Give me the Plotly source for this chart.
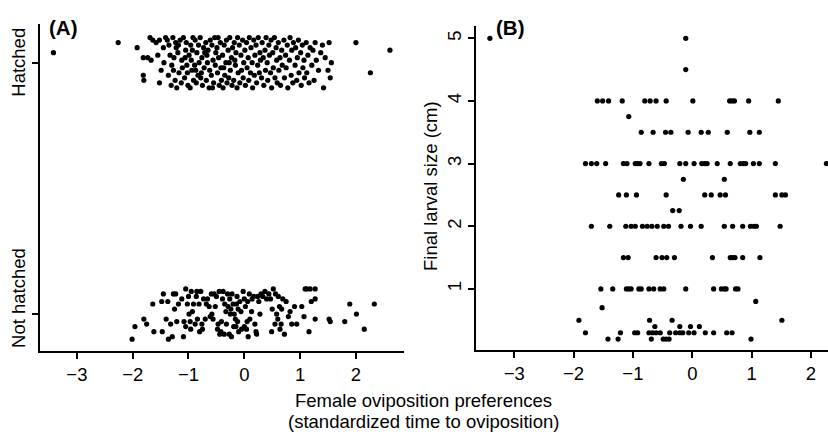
import plotly.graph_objects as go

# ---------------- Panel A: hatched (y ~ 1, jittered) ----------------
hatched_pref = [
    -3.42, -2.26, 2.00, 2.61, 2.26,
    -1.92, -1.81, -1.81, -1.80, -1.69, -1.64, -1.58, -1.52, -1.55, -1.49, -1.52, -1.73, -1.67, -1.44, -1.41, -1.45,
    -1.38, -1.36, -1.33, -1.31, -1.35, -1.30,
    -1.28, -1.26, -1.24, -1.22, -1.27, -1.21, -1.23,
    -1.19, -1.17, -1.15, -1.13, -1.12, -1.18, -1.11,
    -1.09, -1.07, -1.05, -1.03, -1.01, -1.06, -1.04, -1.02,
    -0.99, -0.97, -0.96, -0.94, -0.92, -0.91, -0.95, -0.93,
    -0.89, -0.88, -0.86, -0.85, -0.83, -0.82, -0.81, -0.87,
    -0.79, -0.78, -0.76, -0.75, -0.73, -0.72, -0.71, -0.77,
    -0.69, -0.68, -0.66, -0.65, -0.63, -0.62, -0.61, -0.67,
    -0.59, -0.58, -0.56, -0.55, -0.53, -0.52, -0.51, -0.57,
    -0.49, -0.48, -0.46, -0.45, -0.43, -0.42, -0.41, -0.47,
    -0.39, -0.38, -0.36, -0.35, -0.33, -0.32, -0.31, -0.37,
    -0.29, -0.28, -0.26, -0.25, -0.23, -0.22, -0.21, -0.27,
    -0.19, -0.18, -0.16, -0.15, -0.13, -0.12, -0.11, -0.17,
    -0.09, -0.08, -0.06, -0.05, -0.03, -0.02, -0.01,
    0.01, 0.02, 0.04, 0.05, 0.07, 0.08, 0.09,
    0.11, 0.12, 0.14, 0.15, 0.17, 0.18, 0.19,
    0.21, 0.22, 0.24, 0.25, 0.27, 0.28, 0.29,
    0.31, 0.32, 0.34, 0.35, 0.37, 0.38, 0.39,
    0.41, 0.42, 0.44, 0.45, 0.47, 0.48, 0.49,
    0.51, 0.52, 0.54, 0.55, 0.57, 0.58, 0.59,
    0.61, 0.62, 0.64, 0.65, 0.67, 0.68,
    0.71, 0.72, 0.74, 0.75, 0.77, 0.78,
    0.81, 0.82, 0.84, 0.85, 0.87, 0.88,
    0.91, 0.92, 0.94, 0.95, 0.97, 0.98,
    1.01, 1.02, 1.04, 1.05, 1.07, 1.08,
    1.11, 1.12, 1.14, 1.16, 1.18,
    1.21, 1.23, 1.25, 1.27, 1.29,
    1.33, 1.37, 1.42, 1.45, 1.52, 1.54, 1.56, 1.50, 1.40,
]
hatched_y = [
    1.04, 1.08, 1.08, 1.05, 0.96,
    1.06, 1.02, 0.95, 0.93, 1.10, 1.09, 1.08, 1.09, 1.03, 0.97, 0.92, 1.02, 1.01, 1.00, 1.10, 1.06,
    1.09, 0.95, 1.03, 0.91, 1.07, 0.99,
    1.10, 1.02, 0.93, 1.06, 0.97, 0.90, 1.08,
    1.04, 0.96, 1.09, 0.92, 1.01, 1.07, 0.98,
    1.10, 0.94, 1.05, 0.99, 0.91, 1.02, 1.08, 0.96,
    1.03, 0.90, 1.07, 0.97, 1.10, 0.93, 1.01, 1.05,
    0.99, 1.09, 0.92, 1.04, 0.95, 1.07, 1.00, 0.97,
    1.10, 0.94, 1.02, 0.91, 1.06, 0.98, 1.04, 0.96,
    1.08, 0.93, 1.00, 1.05, 0.90, 0.97, 1.09, 1.03,
    0.95, 1.07, 1.01, 0.92, 1.10, 0.99, 1.04, 0.90,
    1.06, 0.96, 1.02, 0.91, 1.08, 0.98, 0.93, 1.10,
    1.03, 0.90, 1.07, 0.95, 1.00, 1.09, 0.92, 0.98,
    1.05, 0.94, 1.10, 0.97, 1.02, 0.91, 1.06, 1.00,
    0.93, 1.08, 0.99, 1.04, 0.90, 1.10, 0.96, 1.01,
    1.07, 0.92, 1.03, 0.97, 1.09, 0.94, 1.00,
    1.05, 0.91, 1.08, 0.98, 1.02, 0.93, 1.10,
    0.96, 1.06, 1.00, 0.90, 1.09, 0.95, 1.03,
    1.07, 0.92, 0.99, 1.10, 0.96, 1.04, 1.01,
    0.94, 1.08, 1.02, 0.91, 1.05, 0.97, 1.10,
    1.00, 0.93, 1.07, 1.03, 0.96, 1.09, 0.90,
    1.04, 0.98, 1.10, 0.94, 1.06, 1.01, 0.92,
    1.08, 0.97, 1.02, 0.91, 1.05, 0.99,
    1.09, 0.94, 1.03, 0.98, 1.07, 0.90,
    1.01, 1.10, 0.95, 1.05, 0.92, 1.08,
    0.99, 1.06, 0.93, 1.02, 1.09, 0.96,
    1.04, 0.91, 1.07, 0.98, 1.01, 0.94,
    1.08, 0.96, 1.03, 0.92, 1.06,
    0.99, 1.05, 0.93, 1.08, 1.01,
    0.97, 1.04, 0.90, 1.02, 1.08, 0.94, 1.00, 0.97, 1.07,
]

# ---------------- Panel A: not hatched (y ~ 0, jittered) ----------------
nothatched_pref = [
    -2.01, -1.96, -1.80, -1.75, -1.64, -1.62, -1.47, -1.45, -1.48, -1.40,
    -1.37, -1.36, -1.32, -1.29, -1.27, -1.23, -1.21, -1.18, -1.09, -1.08,
    -1.05, -1.02, -1.00, -0.99, -0.97, -0.96, -0.91, -0.88, -0.85, -0.84,
    -0.81, -0.78, -0.76, -0.73, -0.70, -0.68, -0.63, -0.59, -0.56, -0.54,
    -0.50, -0.47, -0.44, -0.42, -0.41, -0.38, -0.35, -0.33, -0.30, -0.27,
    -0.26, -0.24, -0.23, -0.20, -0.18, -0.16, -0.15, -0.13, -0.11, -0.08,
    -0.05, -0.02, 0.00, 0.04, 0.05, 0.07, 0.09, 0.13, 0.17, 0.21,
    0.22, 0.24, 0.28, 0.37, 0.40, 0.47, 0.49, 0.52, 0.55, 0.58,
    0.60, 0.63, 0.64, 0.67, 0.69, 0.72, 0.79, 0.82, 0.85, 0.90,
    0.94, 1.03, 1.07, 1.09, 1.18, 1.16, 1.27, 1.27, 1.27, 1.52,
    1.54, 1.80, 1.89, 2.01, 2.15, 2.33,
    -1.12, -0.93, -0.86, -0.75, -0.66, -0.61, -0.52, -0.48, -0.39, -0.32,
    -0.29, -0.22, -0.19, -0.14, -0.10, -0.06, 0.02, 0.10, 0.14, 0.19,
    0.26, 0.33, 0.44, 0.50, 0.61, 0.66, 0.75, 1.12, 1.20, -1.25,
    -1.05, -0.95, -0.80, -0.58, -0.45, -0.36, -0.25, -0.12, 0.00, 0.06,
    0.30, 0.56,
]
nothatched_y = [
    -0.10, -0.05, -0.02, -0.04, 0.04, -0.07, -0.07, 0.08, 0.05, -0.02,
    0.05, -0.10, -0.04, -0.09, 0.08, 0.08, -0.03, 0.04, -0.09, -0.03,
    0.10, 0.04, 0.07, 0.00, -0.03, -0.06, 0.04, -0.04, 0.09, -0.02,
    0.04, 0.09, -0.04, 0.06, -0.02, 0.04, 0.03, 0.08, -0.02, 0.08,
    0.07, -0.04, -0.08, -0.07, -0.03, 0.09, 0.04, 0.01, 0.08, -0.08,
    0.06, 0.02, -0.09, 0.04, 0.00, -0.02, -0.05, 0.07, 0.02, 0.05,
    -0.06, 0.09, 0.06, -0.06, -0.03, -0.09, 0.08, 0.01, 0.07, -0.07,
    -0.08, 0.07, 0.00, 0.09, 0.06, 0.06, -0.07, 0.10, -0.04, 0.00,
    -0.02, 0.03, -0.06, 0.02, 0.06, -0.08, -0.01, 0.01, -0.04, 0.03,
    -0.04, 0.03, -0.01, 0.10, 0.10, -0.07, 0.10, 0.06, -0.02, -0.02,
    -0.03, -0.03, 0.04, 0.00, -0.06, 0.04,
    0.06, 0.01, 0.07, -0.06, 0.06, -0.01, 0.03, -0.06, 0.06, -0.04,
    0.03, 0.08, -0.05, 0.04, -0.07, 0.01, 0.03, -0.02, 0.06, -0.04,
    0.05, 0.07, 0.08, 0.02, 0.07, -0.04, 0.05, 0.10, 0.05, 0.02,
    -0.05, 0.09, -0.07, 0.00, 0.09, -0.08, 0.00, -0.03, -0.05, 0.05,
    0.08, 0.08,
]

# ---------------- Panel B: final larval size ----------------
size_pref = [
    -3.41, -0.11,
    -0.11,
    -1.60, -1.51, -1.41, -1.18, -0.80, -0.71, -0.61, -0.44, 0.01, 0.63, 0.67, 0.71, 0.95, 1.45,
    -1.07,
    -0.86, -0.66, -0.45, -0.36, -0.07, 0.15, 0.27, 0.59, 0.97, 1.13,
    -1.80, -1.70, -1.61, -1.46, -1.16, -1.10, -0.96, -0.92, -0.88, -0.73, -0.52, -0.47, -0.21, -0.11,
    0.03, 0.16, 0.21, 0.25, 0.42, 0.64, 0.81, 0.86, 0.90, 1.03, 1.13, 1.40, 2.26,
    -0.15, 0.54,
    -1.24, -1.11, -0.94, -0.44, 0.21, 0.32, 0.47, 0.56, 1.40, 1.51, 1.57,
    -0.33, -0.22,
    -1.70, -1.39, -1.12, -1.03, -0.96, -0.84, -0.76, -0.68, -0.59, -0.48, -0.40, -0.19, -0.03, 0.15,
    0.54, 0.68, 0.85, 0.98, 1.04, 1.08, 1.48,
    -1.16, -1.08, -0.61, -0.51, -0.43, -0.30, 0.34, 0.64, 0.68, 0.72, 0.85, 1.14,
    -1.54, -1.34, -1.11, -1.07, -1.03, -0.90, -0.86, -0.73, -0.65, -0.54, -0.48, -0.11, 0.36, 0.49,
    0.54, 0.57, 0.73, 0.77,
    1.07,
    -1.52,
    -1.91, -0.72, -0.34, 1.51,
    -0.63, -0.21, -0.03, 0.12,
    -1.80, -1.21, -0.97, -0.92, -0.73, -0.67, -0.61, -0.54, -0.38, -0.28, -0.21, -0.16, -0.06, 0.03,
    0.22, 0.36, 0.58, 0.67,
    -1.42, -1.25, -0.69, -0.49, -0.44, -0.39, 0.99,
]
size_cm = [
    5, 5,
    4.5,
    4, 4, 4, 4, 4, 4, 4, 4, 4, 4, 4, 4, 4, 4,
    3.75,
    3.5, 3.5, 3.5, 3.5, 3.5, 3.5, 3.5, 3.5, 3.5, 3.5,
    3, 3, 3, 3, 3, 3, 3, 3, 3, 3, 3, 3, 3, 3,
    3, 3, 3, 3, 3, 3, 3, 3, 3, 3, 3, 3, 3,
    2.75, 2.75,
    2.5, 2.5, 2.5, 2.5, 2.5, 2.5, 2.5, 2.5, 2.5, 2.5, 2.5,
    2.25, 2.25,
    2, 2, 2, 2, 2, 2, 2, 2, 2, 2, 2, 2, 2, 2,
    2, 2, 2, 2, 2, 2, 2,
    1.5, 1.5, 1.5, 1.5, 1.5, 1.5, 1.5, 1.5, 1.5, 1.5, 1.5, 1.5,
    1, 1, 1, 1, 1, 1, 1, 1, 1, 1, 1, 1, 1, 1,
    1, 1, 1, 1,
    0.8,
    0.7,
    0.5, 0.5, 0.5, 0.5,
    0.4, 0.4, 0.4, 0.4,
    0.3, 0.3, 0.3, 0.3, 0.3, 0.3, 0.3, 0.3, 0.3, 0.3, 0.3, 0.3, 0.3, 0.3,
    0.3, 0.3, 0.3, 0.3,
    0.2, 0.2, 0.2, 0.2, 0.2, 0.2, 0.2,
]

x_ticks = [-3, -2, -1, 0, 1, 2]
size_ticks = [1, 2, 3, 4, 5]
hatch_labels = ["Not hatched", "Hatched"]

FONT = "Liberation Sans, Arial, Helvetica, sans-serif"
W, H = 828, 434

def px_x(p):
    return p / W

def px_y(p):
    return 1 - p / H

marker = dict(color="black", size=5.2, line=dict(width=0))

fig = go.Figure()
fig.add_trace(go.Scatter(x=hatched_pref, y=hatched_y, mode="markers", marker=marker,
                         xaxis="x", yaxis="y", showlegend=False, cliponaxis=False))
fig.add_trace(go.Scatter(x=nothatched_pref, y=nothatched_y, mode="markers", marker=marker,
                         xaxis="x", yaxis="y", showlegend=False, cliponaxis=False))
fig.add_trace(go.Scatter(x=size_pref, y=size_cm, mode="markers", marker=marker,
                         xaxis="x2", yaxis="y2", showlegend=False, cliponaxis=False))

axis_common = dict(showgrid=False, zeroline=False, showline=True, linecolor="black",
                   linewidth=2, ticks="outside", ticklen=6, tickwidth=1.5, tickcolor="black",
                   tickfont=dict(family=FONT, size=18.5, color="black"))

fig.update_layout(
    width=W, height=H,
    margin=dict(l=0, r=0, t=0, b=0),
    paper_bgcolor="white", plot_bgcolor="white",
    xaxis=dict(domain=[px_x(40), px_x(404)], range=[-3.661, 2.862], anchor="y",
               tickvals=x_ticks, **axis_common),
    yaxis=dict(domain=[px_y(351), px_y(24)], range=[-0.147, 1.154], anchor="x",
               tickvals=[0, 1], showticklabels=False, **axis_common),
    xaxis2=dict(domain=[px_x(476), 1.0], range=[-3.644, 2.287], anchor="y2",
                tickvals=x_ticks, **axis_common),
    yaxis2=dict(domain=[px_y(350), px_y(26)], range=[0.025, 5.196], anchor="x2",
                tickvals=size_ticks, tickangle=-90, **axis_common),
)

ann_font = dict(family=FONT, size=18.5, color="black")
panel_font = dict(family=FONT, size=20.5, color="black")
annotations = [
    dict(text=hatch_labels[1], x=px_x(19), y=1.0, xref="paper", yref="y",
         textangle=-90, showarrow=False, xanchor="center", yanchor="middle", font=ann_font),
    dict(text=hatch_labels[0], x=px_x(19), y=0.064, xref="paper", yref="y",
         textangle=-90, showarrow=False, xanchor="center", yanchor="middle", font=ann_font),
    dict(text="Final larval size (cm)", x=px_x(430), y=px_y(186), xref="paper", yref="paper",
         textangle=-90, showarrow=False, xanchor="center", yanchor="middle", font=ann_font),
    dict(text="Female oviposition preferences", x=px_x(423), y=px_y(400), xref="paper", yref="paper",
         showarrow=False, xanchor="center", yanchor="middle", font=ann_font),
    dict(text="(standardized time to oviposition)", x=px_x(423), y=px_y(421), xref="paper", yref="paper",
         showarrow=False, xanchor="center", yanchor="middle", font=ann_font),
    dict(text="<b>(A)</b>", x=px_x(63), y=px_y(28), xref="paper", yref="paper",
         showarrow=False, xanchor="center", yanchor="middle", font=panel_font),
    dict(text="<b>(B)</b>", x=px_x(510), y=px_y(27), xref="paper", yref="paper",
         showarrow=False, xanchor="center", yanchor="middle", font=panel_font),
]
fig.update_layout(annotations=annotations)

fig.write_html("out.html", config={"displayModeBar": False},
               post_script="document.body.style.margin='0';document.body.style.overflow='hidden';")
